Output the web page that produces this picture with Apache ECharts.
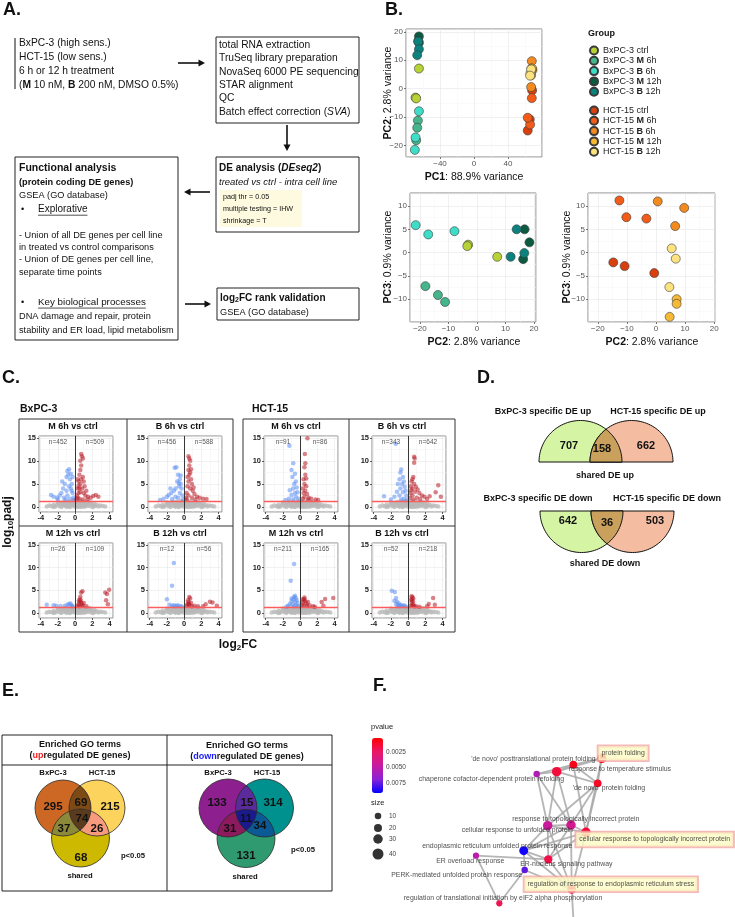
<!DOCTYPE html>
<html>
<head>
<meta charset="utf-8">
<script src="https://cdn.jsdelivr.net/npm/echarts@6/dist/echarts.min.js"></script>
<style>
html,body{margin:0;padding:0;background:#fff;}
#chart{width:735px;height:917px;}
</style>
</head>
<body>
<div id="chart"></div>
<script>
const FONT = '"Liberation Sans", Arial, Helvetica, sans-serif';

// ================= DATA =================
// --- Panel B: PCA ---
const pcaGroups = ['BxPC-3 ctrl','BxPC-3 M 6h','BxPC-3 B 6h','BxPC-3 M 12h','BxPC-3 B 12h',
                   'HCT-15 ctrl','HCT-15 M 6h','HCT-15 B 6h','HCT-15 M 12h','HCT-15 B 12h'];
const pcaColors = ['#b6d236','#45b68c','#3fdcc8','#0c5a42','#0b827e',
                   '#d8400e','#f25c18','#f28a1f','#f6b935','#fde37f'];
const pc1 = [[-64.8,-68.8,-68],[-66,-66.8,-68],[-64.8,-68.8,-69.6],[-64.8,-65.6,-64.8],[-65.6,-64.8,-66.8],
             [63.2,65.6,68.4],[66,63.2,68],[68,67.2,68.8],[67.6,68.4,67.2],[66.4,67.2,66]];
const pc2 = [[7.1,-3.1,-3.4],[-11.2,-13.7,-18.1],[-7.9,-17.1,-21.5],[18.4,16.7,16.2],[16.6,13.9,11.8],
             [-14.7,-10.8,-0.6],[-12.6,-10.2,-3.3],[9.7,0.6,6.6],[7.1,7.1,4.7],[5.4,6.8,4.6]];
const pc3 = [[-0.9,1.7,1.4],[-10.6,-9.1,-7.2],[4.6,3.9,5.9],[2.2,5,-1.4],[-0.1,5,-0.9],
             [-2.1,-2.9,-4.4],[11.2,7.6,7.3],[9.6,11,5.7],[-10,-11,-13.8],[0.9,-1.3,-7.4]];

// --- Panel C: volcano plots ---
const volTitles = ['M 6h vs ctrl','B 6h vs ctrl','M 6h vs ctrl','B 6h vs ctrl',
                   'M 12h vs ctrl','B 12h vs ctrl','M 12h vs ctrl','B 12h vs ctrl'];
const volDownN = [452,456,91,343,26,12,211,52];
const volUpN   = [509,588,86,642,109,56,165,218];
const padjThr = 1.3;
const nsCloud = [[-3.3,0.1],[-3.0,0.3],[-2.7,0.15],[-2.5,0.5],[-2.3,0.1],[-2.1,0.4],[-1.9,0.75],[-1.8,0.2],[-1.6,0.55],[-1.5,0.95],[-1.4,0.3],[-1.3,0.7],[-1.2,1.1],[-1.1,0.2],[-1.0,0.5],[-0.9,0.9],[-0.8,1.2],[-0.7,0.1],[-0.6,0.6],[-0.5,1.0],[-0.4,0.3],[-0.3,0.8],[-0.2,1.2],[-0.1,0.1],[0.0,0.5],[0.1,0.9],[0.2,0.2],[0.3,1.1],[0.4,0.6],[0.5,0.1],[0.6,0.9],[0.7,0.4],[0.8,1.2],[0.9,0.2],[1.0,0.7],[1.1,1.0],[1.2,0.3],[1.3,0.6],[1.4,1.05],[1.5,0.2],[1.6,0.5],[1.8,0.85],[1.9,0.1],[2.0,0.4],[2.2,0.7],[2.3,0.2],[2.5,0.45],[2.7,0.1],[2.9,0.3],[3.2,0.2],[3.5,0.1],[-0.6,0.0],[0.3,0.0],[1.1,0.05],[-1.6,0.0],[2.1,0.0],[-2.5,0.0],[-0.2,0.4],[0.5,0.45],[-1.0,0.05],[-0.45,0.7],[0.15,0.65],[0.7,0.0],[-0.05,1.0],[0.45,1.25],[-0.35,1.25],[1.7,1.1],[-2.0,1.0]];
const bxM6hUp = [[0.3,2],[0.4,3],[0.5,4],[0.6,5],[0.7,6],[0.5,7],[0.6,8],[0.7,9],[0.6,10],[0.8,11],[0.7,11.5],[0.9,10.5],[0.4,5.5],[0.3,4],[0.2,2.5],[0.8,4],[1.0,3],[1.2,2.5],[1.1,4.5],[0.9,6.5],[1.3,3.5],[1.5,2.2],[1.8,2.0],[2.1,2.4],[2.4,2.6],[2.7,2.2],[0.15,1.6],[0.5,1.8],[0.9,1.6],[1.4,1.6],[0.3,6],[1.0,5.5],[0.6,3.2],[0.4,4.6]];
const bxM6hDown = [[-0.2,2],[-0.3,3],[-0.5,4],[-0.4,5],[-0.6,6],[-0.8,7],[-0.9,7.8],[-1.0,6.5],[-1.2,5],[-1.4,4],[-1.6,3],[-1.8,2.5],[-2.1,2],[-2.5,2.2],[-2.8,2.6],[-0.7,4.5],[-1.0,3.5],[-0.3,6.5],[-0.5,7.2],[-1.3,2],[-0.9,2.5],[-0.15,1.6],[-0.6,1.8],[-1.1,1.6],[-2.0,1.6],[-1.5,5.5],[-0.7,8.2],[-0.4,3.5]];
const bxB6hUp = [[0.5,11],[0.6,10.5],[0.7,10],[0.6,9],[0.5,8],[0.7,7.5],[0.6,7],[0.8,6],[0.5,5.5],[0.4,4.5],[0.9,5],[0.7,4],[0.3,3],[1.0,3.5],[1.2,2.8],[0.5,2.5],[0.2,2],[1.5,2.2],[1.8,2.0],[2.2,1.8],[2.6,1.7],[0.9,2],[1.3,1.6],[0.4,6.5],[0.8,8.2],[0.3,1.6],[1.1,4.2]];
const bxB6hDown = [[-1.1,8.5],[-0.9,8.6],[-0.7,7],[-0.5,6],[-0.4,5],[-0.3,4],[-0.6,4.5],[-0.8,5.5],[-1.0,4],[-1.2,3.5],[-1.5,3],[-1.8,2.6],[-2.0,2.2],[-2.4,1.8],[-0.2,2.5],[-0.5,3],[-0.7,2],[-1.0,2.2],[-1.4,1.7],[-0.15,1.6],[-0.4,6.8],[-0.6,5.2],[-2.8,1.5],[-1.6,4]];
const hcM6hUp = [[0.85,14.9],[0.55,11.5],[0.6,9.5],[0.5,8.6],[0.6,7],[0.4,6],[0.5,5],[0.7,4.5],[0.3,4],[0.4,3],[0.6,3.5],[0.8,2.8],[0.5,2.2],[0.3,1.8],[1.0,2],[1.3,1.8],[0.9,1.6],[1.8,1.6],[2.1,1.5],[0.7,6.2]];
const hcM6hDown = [[-1.25,13.3],[-0.8,9.5],[-1.0,8],[-0.6,7.2],[-0.9,6.5],[-0.5,5.5],[-0.7,5],[-0.4,4.2],[-0.8,4],[-0.3,3.2],[-0.6,3],[-1.0,2.6],[-0.5,2.2],[-0.2,1.8],[-1.3,1.8],[-0.8,1.6],[-1.7,1.5],[-1.2,3.6]];
const hcB6hUp = [[0.7,10.9],[0.75,10.5],[0.7,9.6],[0.6,6.5],[0.5,6],[0.4,5.5],[0.7,5],[0.3,4.5],[0.9,4.4],[0.5,4],[1.1,3.8],[0.3,3],[0.8,3.3],[1.3,3],[0.5,2.5],[1.6,2.5],[0.2,2],[1.0,2],[1.9,2.2],[2.5,2.3],[3.5,4.7],[3.2,3.2],[3.8,2.2],[2.2,1.7],[0.6,1.6],[1.4,1.7],[0.35,3.6]];
const hcB6hDown = [[-1.45,13.7],[-0.8,8.1],[-0.9,7.5],[-0.6,6.5],[-1.0,6],[-0.5,5.5],[-0.7,5],[-1.2,5],[-0.4,4.4],[-0.9,4],[-0.3,3.5],[-0.6,3.2],[-1.3,3.3],[-0.2,2.5],[-1.0,2.5],[-1.6,2.2],[-2.8,2.3],[-0.5,1.8],[-2.0,1.6],[-0.8,1.6],[-0.15,1.5]];
const bxM12hUp = [[0.3,1.6],[0.4,2],[0.5,2.5],[0.6,3],[0.7,2.2],[0.8,1.8],[0.5,1.5],[0.6,3.6],[0.7,4.5],[0.85,4.8],[1.0,2.2],[0.9,1.6],[1.3,1.5],[0.45,2.8],[0.65,2.6],[3.5,4.5],[3.7,4.2],[3.6,2.8],[3.95,5.1],[3.8,1.9]];
const bxM12hDown = [[-3.3,1.8],[-2.5,1.7],[-2.2,1.6],[-1.7,1.55],[-1.2,1.6],[-0.9,1.8],[-0.7,2.0],[-0.55,2.1],[-0.4,1.7],[-0.3,1.5]];
const bxB12hUp = [[0.3,1.6],[0.4,2.0],[0.5,2.4],[0.6,3.5],[0.7,3.2],[0.8,2.2],[0.6,1.8],[0.9,1.5],[1.2,1.6],[1.6,1.5],[2.2,1.5],[2.5,1.9],[3.0,2.5],[3.3,2.3],[3.8,1.6],[0.45,2.8],[0.55,2.0]];
const bxB12hDown = [[-1.2,11],[-1.4,6],[-2.0,3],[-1.7,1.8],[-1.4,1.6],[-1.0,1.5],[-0.6,1.6],[-0.3,1.5],[-0.8,1.7],[-1.2,1.7]];
const hcM12hUp = [[0.2,1.8],[0.3,2.3],[0.4,2.8],[0.5,3.1],[0.6,2.6],[0.7,2.1],[0.4,1.6],[0.8,1.6],[0.5,3.4],[0.3,3.0],[1.1,1.7],[1.5,1.5],[1.7,1.4],[2.5,2.4],[2.9,3.1],[3.85,3.3],[2.7,1.6],[0.9,2.4]];
const hcM12hDown = [[-0.7,10.8],[-1.1,7.1],[-0.6,3.8],[-0.7,3.5],[-0.5,3.3],[-0.8,3.0],[-0.4,2.8],[-1.0,2.6],[-0.6,2.4],[-0.3,2.2],[-1.2,2.0],[-0.9,1.9],[-0.5,1.7],[-1.4,1.6],[-0.2,1.5],[-1.6,1.4],[-0.7,1.5],[-1.0,3.2]];
const hcB12hUp = [[0.4,3.7],[0.5,3.5],[0.6,3.2],[0.45,2.9],[0.55,2.6],[0.4,2.3],[0.6,2.0],[0.5,1.7],[0.7,1.5],[0.3,1.6],[0.9,1.5],[1.3,1.4],[2.4,2.0],[2.9,3.3],[3.1,1.8],[2.2,1.5],[0.35,2.9]];
const hcB12hDown = [[-1.9,4.9],[-1.55,4.6],[-1.4,3.3],[-1.3,2.5],[-1.1,2.1],[-1.4,1.9],[-0.9,1.8],[-0.7,1.6],[-0.5,1.7],[-0.3,1.5],[-1.6,2.7],[-1.0,1.5],[-1.2,1.6]];
const volUp = [bxM6hUp,bxB6hUp,hcM6hUp,hcB6hUp,bxM12hUp,bxB12hUp,hcM12hUp,hcB12hUp];
const volDown = [bxM6hDown,bxB6hDown,hcM6hDown,hcB6hDown,bxM12hDown,bxB12hDown,hcM12hDown,hcB12hDown];

// --- Panel D: Venn counts ---
const deUpCounts = [707,158,662];
const deDownCounts = [642,36,503];

// --- Panel E: GO term Venn counts [A only, B only, C only, AB, AC, BC, ABC] ---
const goUpCounts = [295,215,68,69,37,26,74];
const goDownCounts = [133,314,131,15,31,34,11];

// --- Panel F: GO network ---
const goTerms = ['protein folding',"'de novo' posttranslational protein folding",'response to temperature stimulus',
  'chaperone cofactor-dependent protein refolding',"'de novo' protein folding",'response to topologically incorrect protein',
  'cellular response to unfolded protein','cellular response to topologically incorrect protein',
  'endoplasmic reticulum unfolded protein response','ER overload response','ER-nucleus signaling pathway',
  'PERK-mediated unfolded protein response','regulation of response to endoplasmic reticulum stress',
  'regulation of translational initiation by eIF2 alpha phosphorylation'];
const goPvalue = [0.0006,0.0008,0.0015,0.0055,0.0010,0.0040,0.0045,0.0014,0.0088,0.0050,0.0018,0.0075,0.0016,0.0020,0.0020];
const goSize = [30,18,30,10,18,30,30,30,26,8,22,10,25,8,20];
const goNodeX = [231.7,203.3,186.7,166.7,227.7,201,177.7,216,153.7,106,178.3,154.7,201.7,129.3,204];
const goNodeY = [28.3,34.7,41.7,44,53.3,95,95.7,102.3,120.7,125.7,129.3,140,159.3,173.3,200];
const goLabelX = [229,101.7,199.3,49.3,203.3,142.7,92.3,206.7,52.7,66.7,150.7,21.7,155,34.3];
const goLabelY = [23.7,30,40,50,59,89.3,100.7,110,116.7,131.7,135,145.7,154.7,168.3];
const goHighlight = [1,0,0,0,0,0,0,1,0,0,0,0,1,0];
const goEdges = [[0,1],[0,2],[1,2],[0,4],[1,4],[2,4],[2,3],[1,3],[3,6],[3,5],[2,5],[2,6],[4,5],[4,7],[1,7],[4,6],[0,7],
  [5,6],[5,7],[6,7],[6,8],[5,8],[7,8],[7,10],[8,10],[5,10],[6,10],[8,11],[9,10],[9,13],[11,13],[11,12],[10,12],[8,12],
  [7,12],[5,12],[6,12],[12,14]];
const pvalueTicks = [0.0025,0.0050,0.0075];
const sizeLegend = [10,20,30,40];

// ================= HELPERS =================
const fnt = (size, weight, style) => `${style || 'normal'} ${weight || 'normal'} ${size}px ${FONT}`;
const mctx = document.createElement('canvas').getContext('2d');
function tw(text, font) { mctx.font = font; return mctx.measureText(text).width; }
const gfx = [];
function TR(x, y, segs, opt) {
  opt = opt || {};
  const items = segs.map(s => ({ text: s[0], font: fnt(s[1], s[2], s[3]), color: s[4] || opt.color || '#111', dy: s[5] || 0 }));
  let total = 0; items.forEach(it => { it.w = tw(it.text, it.font); total += it.w; });
  let off = opt.align === 'center' ? -total / 2 : (opt.align === 'right' ? -total : 0);
  items.forEach(it => {
    const el = { type: 'text', silent: true, z: 100, style: { text: it.text, font: it.font, fill: it.color,
      textAlign: 'left', textVerticalAlign: 'middle', align: 'left', verticalAlign: 'middle' } };
    if (opt.rot) { el.x = x + it.dy; el.y = y - off; el.rotation = Math.PI / 2; }
    else { el.x = x + off; el.y = y + it.dy; }
    gfx.push(el);
    off += it.w;
  });
  return total;
}
function T(x, y, text, size, weight, align, color) { return TR(x, y, [[text, size, weight, null, color]], { align }); }
function R(x, y, w, h, stroke, fill, lw) { gfx.push({ type: 'rect', silent: true, z: 100, shape: { x, y, width: w, height: h }, style: { fill: fill || 'none', stroke: stroke || 'none', lineWidth: lw || 1 } }); }
function L(x1, y1, x2, y2, stroke, lw) { gfx.push({ type: 'line', silent: true, z: 100, shape: { x1, y1, x2, y2 }, style: { stroke: stroke || '#111', lineWidth: lw || 1 } }); }
function P(points, fill, stroke, lw) { gfx.push({ type: 'polygon', silent: true, z: 100, shape: { points }, style: { fill: fill || 'none', stroke: stroke || 'none', lineWidth: lw || 1 } }); }
function Ci(cx, cy, r, fill, stroke, lw) { gfx.push({ type: 'circle', silent: true, z: 100, shape: { cx, cy, r }, style: { fill: fill || 'none', stroke: stroke || 'none', lineWidth: lw || 1 } }); }
function arrow(x1, y1, x2, y2) {
  const a = Math.atan2(y2 - y1, x2 - x1), len = 6.5, hw = 3.5;
  L(x1, y1, x2 - len * Math.cos(a) * 0.8, y2 - len * Math.sin(a) * 0.8, '#111', 1.6);
  const bx = x2 - len * Math.cos(a), by = y2 - len * Math.sin(a);
  P([[x2, y2], [bx + hw * Math.sin(a), by - hw * Math.cos(a)], [bx - hw * Math.sin(a), by + hw * Math.cos(a)]], '#111');
}
function underline(x, y, text, size, weight) { const w = T(x, y, text, size, weight); L(x, y + size * 0.62, x + w, y + size * 0.62, '#222', 0.8); }
function arcPts(cx, cy, r, a0, a1, n) { const p = []; for (let i = 0; i <= n; i++) { const a = a0 + (a1 - a0) * i / n; p.push([cx + r * Math.cos(a), cy + r * Math.sin(a)]); } return p; }
function shortArc(c, p, q, n) {
  const a0 = Math.atan2(p[1] - c.y, p[0] - c.x), a1 = Math.atan2(q[1] - c.y, q[0] - c.x);
  let d = a1 - a0; while (d > Math.PI) d -= 2 * Math.PI; while (d < -Math.PI) d += 2 * Math.PI;
  return arcPts(c.x, c.y, c.r, a0, a0 + d, n);
}
function intersect(c1, c2) {
  const dx = c2.x - c1.x, dy = c2.y - c1.y, d = Math.hypot(dx, dy);
  const a = (d * d + c1.r * c1.r - c2.r * c2.r) / (2 * d), h = Math.sqrt(c1.r * c1.r - a * a);
  const mx = c1.x + a * dx / d, my = c1.y + a * dy / d;
  return [[mx + h * dy / d, my - h * dx / d], [mx - h * dy / d, my + h * dx / d]];
}
const inside = (pt, c) => Math.hypot(pt[0] - c.x, pt[1] - c.y) <= c.r + 1e-6;
function lens(c1, c2) { const [p, q] = intersect(c1, c2); return shortArc(c1, p, q, 30).concat(shortArc(c2, q, p, 30)); }
function triple(A, B, C) {
  const vAB = intersect(A, B).find(p => inside(p, C));
  const vAC = intersect(A, C).find(p => inside(p, B));
  const vBC = intersect(B, C).find(p => inside(p, A));
  return shortArc(A, vAB, vAC, 20).concat(shortArc(C, vAC, vBC, 20)).concat(shortArc(B, vBC, vAB, 20));
}

// ================= PANEL A (diagram) =================
T(3, 10, 'A.', 18, 'bold');
L(15, 38, 15, 89, '#111', 1);
const sA = 10.25;
T(19, 43, 'BxPC-3 (high sens.)', sA);
T(19, 57, 'HCT-15 (low sens.)', sA);
T(19, 71, '6 h or 12 h treatment', sA);
TR(19, 85, [['(', sA], ['M', sA, 'bold'], [' 10 nM, ', sA], ['B', sA, 'bold'], [' 200 nM, DMSO 0.5%)', sA]]);
arrow(178, 63, 205, 63);
R(216, 37, 143, 86, '#222', null, 1);
['total RNA extraction', 'TruSeq library preparation', 'NovaSeq 6000 PE sequencing', 'STAR alignment', 'QC'].forEach((t, i) => T(219, 45 + i * 13.35, t, sA));
TR(219, 111.7, [['Batch effect correction (', sA], ['SVA', sA, 'normal', 'italic'], [')', sA]]);
arrow(287, 125, 287, 151);
R(216, 157, 143, 75, '#222', null, 1);
TR(219, 168, [['DE analysis (', 10, 'bold'], ['DEseq2', 10, 'bold', 'italic'], [')', 10, 'bold']]);
TR(219, 182, [['treated vs ctrl - intra cell line', 9.5, 'normal', 'italic']]);
R(220, 190, 82, 37, null, '#fdfae0', 1);
T(223, 197, 'padj thr = 0.05', 7.2);
T(223, 209, 'multiple testing = IHW', 7.2);
T(223, 221, 'shrinkage = T', 7.2);
arrow(210, 192, 184, 192);
R(15, 157, 163, 183, '#222', null, 1);
T(19, 168, 'Functional analysis', 10.5, 'bold');
T(19, 182, '(protein coding DE genes)', 9.2, 'bold');
T(19, 195, 'GSEA (GO database)', 9.2);
T(21, 209, '•', 9.2);
underline(38, 209, 'Explorative', 10);
T(19, 235, '- Union of all DE genes per cell line', 9.2);
T(19, 247, 'in treated vs control comparisons', 9.2);
T(19, 259, '- Union of DE genes per cell line,', 9.2);
T(19, 272, 'separate time points', 9.2);
T(21, 302, '•', 9.2);
underline(38, 302, 'Key biological processes', 9.8);
T(19, 316, 'DNA damage and repair, protein', 9.2);
T(19, 330, 'stability and ER load, lipid metabolism', 9.2);
arrow(185, 304, 211, 304);
R(217, 288, 142, 32, '#222', null, 1);
TR(220, 298, [['log', 10, 'bold'], ['2', 7, 'bold', null, null, 2], ['FC rank validation', 10, 'bold']]);
T(220, 312, 'GSEA (GO database)', 9.2);

// ================= PANEL B (PCA) =================
T(385, 10, 'B.', 18, 'bold');
T(588, 34, 'Group', 9, 'bold');
TR(474, 177, [['PC1', 10.5, 'bold'], [': 88.9% variance', 10.5]], { align: 'center' });
TR(388, 93, [['PC2', 10.5, 'bold'], [': 2.8% variance', 10.5]], { align: 'center', rot: true });
TR(474, 342, [['PC2', 10.5, 'bold'], [': 2.8% variance', 10.5]], { align: 'center' });
TR(388, 257, [['PC3', 10.5, 'bold'], [': 0.9% variance', 10.5]], { align: 'center', rot: true });
TR(652, 342, [['PC2', 10.5, 'bold'], [': 2.8% variance', 10.5]], { align: 'center' });
TR(567, 257, [['PC3', 10.5, 'bold'], [': 0.9% variance', 10.5]], { align: 'center', rot: true });

// ================= PANEL C (volcano frame) =================
T(2, 378, 'C.', 18, 'bold');
T(20, 409, 'BxPC-3', 10.5, 'bold');
T(252, 409, 'HCT-15', 10.5, 'bold');
R(19, 419, 214, 213, '#333', null, 1);
R(243, 419, 212, 213, '#333', null, 1);
L(127, 419, 127, 632, '#333', 1); L(349, 419, 349, 632, '#333', 1);
L(19, 526, 233, 526, '#333', 1); L(243, 526, 455, 526, '#333', 1);
const volLeft = [39, 148, 264, 372, 39, 148, 264, 372];
const volTop = [436, 436, 436, 436, 543, 543, 543, 543];
const volBoxCenter = [73, 180, 296, 402, 73, 180, 296, 402];
for (let i = 0; i < 8; i++) {
  T(volBoxCenter[i], volTop[i] - 9, volTitles[i], 9, 'bold', 'center');
  T(volLeft[i] + 19, volTop[i] + 6, 'n=' + volDownN[i], 6.5, 'normal', 'center', '#555');
  T(volLeft[i] + 56, volTop[i] + 6, 'n=' + volUpN[i], 6.5, 'normal', 'center', '#555');
}
TR(238, 645, [['log', 12, 'bold'], ['2', 8, 'bold', null, null, 2.5], ['FC', 12, 'bold']], { align: 'center' });
TR(8, 522, [['log', 12, 'bold'], ['10', 8, 'bold', null, null, 2.5], ['padj', 12, 'bold']], { align: 'center', rot: true });

// ================= PANEL D (Venn) =================
T(477, 378, 'D.', 18, 'bold');
T(543, 412, 'BxPC-3 specific DE up', 9, 'bold', 'center');
T(658, 412, 'HCT-15 specific DE up', 9, 'bold', 'center');
T(538, 499, 'BxPC-3 specific DE down', 9, 'bold', 'center');
T(667, 499, 'HCT-15 specific DE down', 9, 'bold', 'center');
{
  const r = 41.5;
  const uL = { x: 580.5, y: 462, r }, uR = { x: 631.5, y: 462, r };
  P(arcPts(uL.x, uL.y, r, Math.PI, 2 * Math.PI, 60), '#d6f5a4', '#111', 1);
  P(arcPts(uR.x, uR.y, r, Math.PI, 2 * Math.PI, 60), '#f4bca1', '#111', 1);
  const top = intersect(uL, uR).sort((a, b) => a[1] - b[1])[0];
  P(shortArc(uR, [uR.x - r, uR.y], top, 20).concat(shortArc(uL, top, [uL.x + r, uL.y], 20)), '#c9a15c', '#111', 1);
  const dL = { x: 581.5, y: 511, r }, dR = { x: 632.5, y: 511, r };
  P(arcPts(dL.x, dL.y, r, 0, Math.PI, 60), '#d6f5a4', '#111', 1);
  P(arcPts(dR.x, dR.y, r, 0, Math.PI, 60), '#f4bca1', '#111', 1);
  const bot = intersect(dL, dR).sort((a, b) => b[1] - a[1])[0];
  P(shortArc(dR, [dR.x - r, dR.y], bot, 20).concat(shortArc(dL, bot, [dL.x + r, dL.y], 20)), '#c9a15c', '#111', 1);
}
T(569, 446, String(deUpCounts[0]), 11, 'bold', 'center');
T(602, 449, String(deUpCounts[1]), 11, 'bold', 'center');
T(646, 446, String(deUpCounts[2]), 11, 'bold', 'center');
T(605, 476, 'shared DE up', 9, 'bold', 'center');
T(568, 521, String(deDownCounts[0]), 11, 'bold', 'center');
T(607, 523, String(deDownCounts[1]), 11, 'bold', 'center');
T(655, 521, String(deDownCounts[2]), 11, 'bold', 'center');
T(605, 564, 'shared DE down', 9, 'bold', 'center');

// ================= PANEL E (GO Venn) =================
T(2, 691, 'E.', 18, 'bold');
R(2, 735, 330, 156, '#222', null, 1);
L(167, 735, 167, 891, '#222', 1);
L(2, 765, 332, 765, '#222', 1);
T(80, 745, 'Enriched GO terms', 9, 'bold', 'center');
TR(80, 756, [['(', 9, 'bold'], ['up', 9, 'bold', null, '#ff1a1a'], ['regulated DE genes)', 9, 'bold']], { align: 'center' });
T(247, 746, 'Enriched GO terms', 9, 'bold', 'center');
TR(247, 757, [['(', 9, 'bold'], ['down', 9, 'bold', null, '#1a1aff'], ['regulated DE genes)', 9, 'bold']], { align: 'center' });
function venn3(A, B, C, cols, counts, pos) {
  Ci(A.x, A.y, A.r, cols[0]); Ci(B.x, B.y, B.r, cols[1]); Ci(C.x, C.y, C.r, cols[2]);
  P(lens(A, B), cols[3]); P(lens(A, C), cols[4]); P(lens(B, C), cols[5]); P(triple(A, B, C), cols[6]);
  [A, B, C].forEach(c => Ci(c.x, c.y, c.r, null, '#2a2a2a', 0.8));
  counts.forEach((v, i) => T(pos[i][0], pos[i][1], String(v), 11.5, 'bold', 'center', '#111'));
}
venn3({ x: 63, y: 808, r: 28 }, { x: 97, y: 808, r: 28 }, { x: 80.5, y: 838, r: 29 },
  ['#cc6724', '#fbd35d', '#cdb900', '#7d4a16', '#8c8a3a', '#f79b7e', '#5b3b1d'], goUpCounts,
  [[53, 807], [110, 807], [81, 858], [81, 803], [64, 829], [97, 829], [82, 819]]);
venn3({ x: 228, y: 808, r: 29 }, { x: 264.5, y: 808, r: 29 }, { x: 246, y: 838.5, r: 29 },
  ['#8e1f8e', '#00918e', '#2f9a70', '#5b2a9b', '#8c1a5c', '#0b5a96', '#1a1a8c'], goDownCounts,
  [[217, 803], [273, 803], [246, 856], [247, 803], [230, 829], [260, 826], [246, 819]]);
T(53, 773, 'BxPC-3', 7.7, 'bold', 'center'); T(102, 773, 'HCT-15', 7.7, 'bold', 'center');
T(80, 876, 'shared', 7.7, 'bold', 'center'); T(133, 856, 'p<0.05', 7.7, 'bold', 'center');
T(218, 773, 'BxPC-3', 7.7, 'bold', 'center'); T(267, 773, 'HCT-15', 7.7, 'bold', 'center');
T(245, 877, 'shared', 7.7, 'bold', 'center'); T(303, 850, 'p<0.05', 7.7, 'bold', 'center');

// ================= PANEL F (legend texts) =================
T(373, 686, 'F.', 18, 'bold');
T(371, 727, 'pvalue', 7.5, 'normal', 'left', '#222');
T(371, 803, 'size', 7.5, 'normal', 'left', '#222');
const cbTop = 738, cbH = 55, cbMin = 0.0002, cbMax = 0.0091;
pvalueTicks.forEach(v => T(386, cbTop + (v - cbMin) / (cbMax - cbMin) * cbH, v.toFixed(4), 6.5, 'normal', 'left', '#444'));
const sizeLegendY = [816, 828, 839, 854];
sizeLegend.forEach((v, i) => T(389, sizeLegendY[i], String(v), 6.5, 'normal', 'left', '#444'));

// ================= CHART =================
const grids = [], xAxes = [], yAxes = [], series = [];
function addGrid(g, xa, ya) {
  grids.push(g); const i = grids.length - 1;
  xAxes.push(Object.assign({ gridIndex: i }, xa)); yAxes.push(Object.assign({ gridIndex: i }, ya));
  return i;
}
const minus = v => String(v).replace('-', '\u2212');
const pcaAxis = (min, max, extra) => Object.assign({
  type: 'value', min, max, axisLine: { show: false, onZero: false },
  axisTick: { show: true, length: 2, lineStyle: { color: '#555', width: 0.8 } },
  axisLabel: { fontSize: 8, color: '#555', fontFamily: FONT, margin: 3, showMinLabel: false, showMaxLabel: false, formatter: minus },
  splitLine: { lineStyle: { color: '#e6e6e6', width: 0.6 } },
  minorTick: { show: false, splitNumber: 2 }, minorSplitLine: { show: true, lineStyle: { color: '#f4f4f4', width: 0.5 } }
}, extra || {});
const gridStyle = { show: true, borderColor: '#858585', borderWidth: 1, backgroundColor: '#fff' };
const g0 = addGrid(Object.assign({ left: 406, top: 29, width: 136, height: 128 }, gridStyle),
  pcaAxis(-80, 80, { interval: 40 }), pcaAxis(-24, 21));
const g1 = addGrid(Object.assign({ left: 410, top: 193, width: 126, height: 129 }, gridStyle),
  pcaAxis(-23.5, 20.7), pcaAxis(-14.9, 12.8));
const g2 = addGrid(Object.assign({ left: 588, top: 193, width: 127, height: 129 }, gridStyle),
  pcaAxis(-23.4, 20.3), pcaAxis(-14.9, 12.8));
pcaGroups.forEach((name, g) => {
  const base = { type: 'scatter', name, symbolSize: 9, itemStyle: { color: pcaColors[g], borderColor: '#3a3a3a', borderWidth: 0.6, opacity: 1 } };
  series.push(Object.assign({}, base, { xAxisIndex: g0, yAxisIndex: g0, data: pc1[g].map((v, i) => [v, pc2[g][i]]) }));
  const gi = g < 5 ? g1 : g2;
  series.push(Object.assign({}, base, { xAxisIndex: gi, yAxisIndex: gi, data: pc2[g].map((v, i) => [v, pc3[g][i]]) }));
});

// Volcano grids
const volX = {
  type: 'value', min: -4.2, max: 4.4, splitNumber: 4, axisLine: { show: false, onZero: false },
  axisTick: { show: true, length: 2, lineStyle: { color: '#333', width: 0.8 } },
  axisLabel: { fontSize: 7.5, fontWeight: 'bold', color: '#222', fontFamily: FONT, margin: 2, showMinLabel: false, showMaxLabel: false },
  splitLine: { lineStyle: { color: '#e2e2e2', width: 0.5 } },
  minorTick: { show: false, splitNumber: 2 }, minorSplitLine: { show: true, lineStyle: { color: '#f1f1f1', width: 0.5 } }
};
const volY = Object.assign({}, volX, { min: -1.1, max: 15.4, splitNumber: 3, axisLabel: Object.assign({}, volX.axisLabel, { margin: 3 }) });
for (let i = 0; i < 8; i++) {
  const gi = addGrid(Object.assign({ left: volLeft[i], top: volTop[i], width: 74, height: i < 4 ? 76 : 75 }, gridStyle, { borderColor: '#8a8a8a' }), volX, volY);
  series.push({ type: 'scatter', xAxisIndex: gi, yAxisIndex: gi, data: nsCloud, symbolSize: 4.5, silent: true, itemStyle: { color: '#b8b8b8', opacity: 0.75 } });
  series.push({ type: 'scatter', xAxisIndex: gi, yAxisIndex: gi, data: volDown[i], symbolSize: 4.5, silent: true, itemStyle: { color: '#5b8ef0', opacity: 0.55 } });
  series.push({ type: 'scatter', xAxisIndex: gi, yAxisIndex: gi, data: volUp[i], symbolSize: 4.5, silent: true, itemStyle: { color: '#b81c26', opacity: 0.55 },
    markLine: { silent: true, symbol: ['none', 'none'], label: { show: false }, animation: false,
      data: [{ yAxis: padjThr, lineStyle: { color: '#ff5c5c', width: 1.3, type: 'solid' } }, { xAxis: 0, lineStyle: { color: '#222', width: 0.9, type: 'solid' } }] } });
}

// Network grid
const gN = addGrid({ left: 370, top: 730, width: 365, height: 187, show: false },
  { type: 'value', min: 0, max: 365, show: false }, { type: 'value', min: 0, max: 187, inverse: true, show: false });
series.push({ type: 'lines', coordinateSystem: 'cartesian2d', xAxisIndex: gN, yAxisIndex: gN, silent: true,
  lineStyle: { color: '#a8a8a8', width: 1.8, opacity: 0.85 },
  data: goEdges.map(([a, b]) => ({ coords: [[goNodeX[a], goNodeY[a]], [goNodeX[b], goNodeY[b]]] })) });
const nodeSeriesIndex = series.length;
const nodeSize = v => 5 + 0.15 * v;
series.push({ type: 'scatter', xAxisIndex: gN, yAxisIndex: gN, silent: true, clip: false,
  data: goNodeX.map((x, i) => [x, goNodeY[i], goPvalue[i], goSize[i]]),
  symbolSize: v => nodeSize(v[3]), itemStyle: { opacity: 1 } });
series.push({ type: 'scatter', xAxisIndex: gN, yAxisIndex: gN, silent: true, symbolSize: 1, itemStyle: { color: 'rgba(0,0,0,0)' },
  data: goTerms.map((t, i) => ({ value: [goLabelX[i], goLabelY[i]],
    label: goHighlight[i] ? { backgroundColor: '#fdfbc6', borderColor: '#f3a7a7', borderWidth: 1.8, padding: [4, 3, 3, 3] } : {} })),
  label: { show: true, position: [0, 0], align: 'left', verticalAlign: 'middle', fontSize: 6.9, fontFamily: FONT, color: '#222',
    formatter: p => goTerms[p.dataIndex] } });
series.push({ type: 'scatter', xAxisIndex: gN, yAxisIndex: gN, silent: true,
  data: sizeLegend.map((v, i) => [8, sizeLegendY[i] - 730, v]), symbolSize: v => nodeSize(v[2]), itemStyle: { color: '#000' } });

const legendBase = {
  orient: 'vertical', left: 589, itemWidth: 8, itemHeight: 8, itemGap: 0.3, icon: 'circle', padding: 0, selectedMode: false,
  textStyle: { fontSize: 9, fontFamily: FONT, color: '#222', lineHeight: 9, rich: { b: { fontWeight: 'bold', fontSize: 9, fontFamily: FONT, lineHeight: 9 } } },
  formatter: n => n.replace(/ (M|B) /, ' {b|$1} ')
};

const option = {
  animation: false,
  backgroundColor: '#fff',
  grid: grids, xAxis: xAxes, yAxis: yAxes, series,
  legend: [Object.assign({ top: 45.5, data: pcaGroups.slice(0, 5) }, legendBase), Object.assign({ top: 105.5, data: pcaGroups.slice(5) }, legendBase)],
  visualMap: [{ type: 'continuous', seriesIndex: nodeSeriesIndex, dimension: 2, min: cbMin, max: cbMax, inverse: true,
    orient: 'vertical', left: 372, top: cbTop, itemWidth: 11, itemHeight: cbH, padding: 0, calculable: false, show: true,
    inRange: { color: ['#ff0000', '#ea1765', '#c81aa0', '#8a22d6', '#0000ff'] } }],
  graphic: { elements: gfx }
};
const chart = echarts.init(document.getElementById('chart'), null, { renderer: 'canvas' });
chart.setOption(option);
</script>
</body>
</html>
